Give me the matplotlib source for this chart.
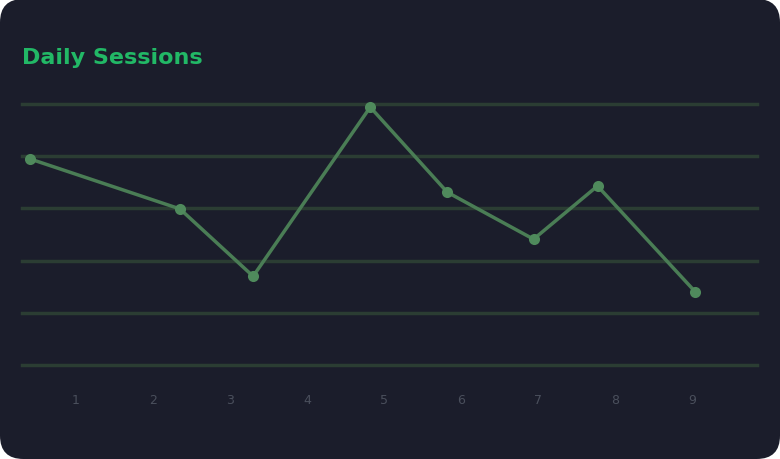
import matplotlib
matplotlib.use("Agg")
import matplotlib.pyplot as plt
from matplotlib.patches import FancyBboxPatch

# data
title = "Daily Sessions"
tick_labels = ["1", "2", "3", "4", "5", "6", "7", "8", "9"]
tick_pos = [1, 2, 3, 4, 5, 6, 7, 8, 9]
xs = [0.40, 2.35, 3.30, 4.82, 5.82, 6.94, 7.77, 9.04]
ys = [39.5, 29.9, 17.0, 49.4, 33.1, 24.1, 34.3, 14.0]
grid_vals = [0, 10, 20, 30, 40, 50]

bg = "#1b1d2b"
grid_col = "#2b3d33"
line_col = "#4a7d55"
title_col = "#22b866"
tick_col = "#4a4f5c"

fig = plt.figure(figsize=(7.8, 4.6), dpi=100)
fig.patch.set_facecolor("white")

# rounded card behind everything
card = FancyBboxPatch((0, 0), 1, 1, boxstyle="round,pad=0,rounding_size=0.03",
                      transform=fig.transFigure, facecolor=bg, edgecolor="none",
                      mutation_aspect=780 / 460, zorder=-10)
fig.patches.append(card)

ax = fig.add_axes([22 / 780, (460 - 366) / 460, (757 - 22) / 780, (366 - 105) / 460])
ax.set_zorder(5)
ax.set_facecolor("none")

for g in grid_vals:
    ax.axhline(g, color=grid_col, lw=2.5, zorder=1, clip_on=False)

ax.plot(xs, ys, color=line_col, lw=2.5, marker="o", markersize=8,
        markerfacecolor="#4f8a5c", markeredgecolor="none", zorder=3, clip_on=False)

ax.set_xlim(0.30, 9.84)
ax.set_ylim(0, 50)
ax.set_xticks(tick_pos)
ax.set_xticklabels(tick_labels)
ax.set_yticks([])
ax.tick_params(axis="x", length=0, pad=20, labelsize=9, labelcolor=tick_col)
for s in ax.spines.values():
    s.set_visible(False)

fig.text(22 / 780, 1 - 58 / 460, title, color=title_col, fontsize=16,
         fontweight="bold", va="center", ha="left", zorder=6)

fig.savefig("out.png", dpi=100, facecolor=fig.get_facecolor())
